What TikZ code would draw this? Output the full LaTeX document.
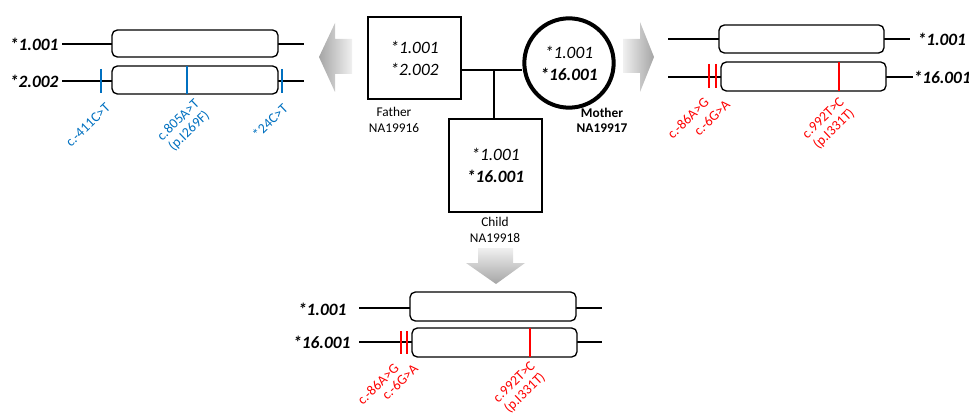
\documentclass[tikz,border=0pt]{standalone}
\usepackage{fontspec}
\setmainfont{Carlito}
\usetikzlibrary{positioning,calc}
\definecolor{mutblue}{RGB}{0,112,192}
\definecolor{mutred}{RGB}{255,0,0}
\definecolor{arrgray}{RGB}{165,165,165}
\definecolor{arrlight}{RGB}{240,240,240}
\tikzset{
  gline/.style={line width=1.6pt},
  gbox/.style={draw,line width=1pt,rounded corners=4pt,fill=white},
  mtick/.style={line width=1.5pt},
  allele/.style={font=\fontsize{13}{15}\selectfont\bfseries\itshape,inner sep=1pt},
  mut/.style={font=\fontsize{10.5}{11.5}\selectfont,rotate=44,align=center,inner sep=0pt},
  pedbox/.style={draw,line width=1.5pt,align=center,font=\fontsize{13}{16.5}\selectfont\itshape},
  pedline/.style={line width=1.6pt},
  pedcap/.style={font=\fontsize{10}{11.5}\selectfont,align=center,inner sep=0pt}
}
\begin{document}
\begin{tikzpicture}[x=0.75pt,y=-0.75pt]
  \useasboundingbox (0,0) rectangle (969,417);

  % pedigree
  \node[pedbox,minimum width=69.75pt,minimum height=61.5pt] (father) at (414.5,58) {*1.001\\*2.002};
  \node[pedbox,circle,line width=3pt,minimum size=67pt] (mother) at (569,63) {*1.001\\\textbf{*16.001}};
  \node[pedbox,minimum width=69.75pt,minimum height=69.75pt] (child) at (495.5,165.5) {*1.001\\\textbf{*16.001}};
  \coordinate (mate) at (494,70);
  \draw[pedline] (mate -| father.east) -- (mate -| mother.west);
  \draw[pedline] (mate) -- (mate |- child.north);
  \node[pedcap] (fcap) at (394,120) {Father\\NA19916};
  \node[pedcap,font=\fontsize{10}{11.5}\selectfont\bfseries] (mcap) at (602,120) {Mother\\NA19917};
  \node[pedcap] (ccap) at (495,230) {Child\\NA19918};

  % shaded arrows
  \shade[left color=arrgray,right color=arrlight] (319,57) -- (335,23) -- (335,39) -- (352,39) -- (352,74) -- (335,74) -- (335,92) -- cycle;
  \shade[left color=arrlight,right color=arrgray] (623,39) -- (640,39) -- (640,22) -- (654,57) -- (640,92) -- (640,73) -- (623,73) -- cycle;
  \shade[top color=arrlight,bottom color=arrgray] (478,248) -- (513,248) -- (513,263) -- (525,263) -- (496,284) -- (466,263) -- (478,263) -- cycle;

  % father alleles
  \draw[gline] (62,44) -- (112,44) (278,44) -- (304,44);
  \draw[gbox] (112,30) rectangle (278,57);
  \draw[gline] (62,81) -- (112,81) (278,81) -- (304,81);
  \draw[gbox] (112,66) rectangle (278,94);
  \node[allele,anchor=east] (f1) at (60,44) {*1.001};
  \node[allele,anchor=east] (f2) at (60,81) {*2.002};
  \foreach \x/\a/\b in {101/69/93,187/66/94,282/69/93}{\draw[mtick,mutblue] (\x,\a) -- (\x,\b);}
  \node[mut,text=mutblue] (f411) at (88,125) {c.-411C>T};
  \node[mut,text=mutblue] (f805) at (184,126) {c.805A>T\\(p.I269F)};
  \node[mut,text=mutblue] (f24) at (270,121) {*24C>T};

  % mother alleles
  \draw[gline] (668,39) -- (719,39) (884,39) -- (910,39);
  \draw[gbox] (719,25) rectangle (884,53);
  \draw[gline] (668,77) -- (721,77) (886,77) -- (913,77);
  \draw[gbox] (721,62) rectangle (886,91);
  \node[allele,anchor=west] (m1) at (916,39) {*1.001};
  \node[allele,anchor=west] (m2) at (912,77) {*16.001};
  \foreach \x/\a/\b in {709/64/88,716/64/88,839/62/91}{\draw[mtick,mutred] (\x,\a) -- (\x,\b);}
  \node[mut,text=mutred] (m86) at (688,118) {c.-86A>G};
  \node[mut,text=mutred] (m6) at (712,118) {c.-6G>A};
  \node[mut,text=mutred] (m992) at (829,124) {c.992T>C\\(p.I331T)};

  % child alleles
  \draw[gline] (359,308) -- (410,308) (576,308) -- (602,308);
  \draw[gbox] (410,292) rectangle (576,321);
  \draw[gline] (359,342) -- (412,342) (577,342) -- (602,342);
  \draw[gbox] (412,328) rectangle (577,357);
  \node[allele,anchor=east] (c1) at (348,309) {*1.001};
  \node[allele,anchor=east] (c2) at (352,342) {*16.001};
  \foreach \x/\a/\b in {401/331/354,407/331/354,530/328/357}{\draw[mtick,mutred] (\x,\a) -- (\x,\b);}
  \node[mut,text=mutred] (c86) at (378,384) {c.-86A>G};
  \node[mut,text=mutred] (c6) at (400,382) {c.-6G>A};
  \node[mut,text=mutred] (c992) at (520,388) {c.992T>C\\(p.I331T)};
\end{tikzpicture}
\end{document}
